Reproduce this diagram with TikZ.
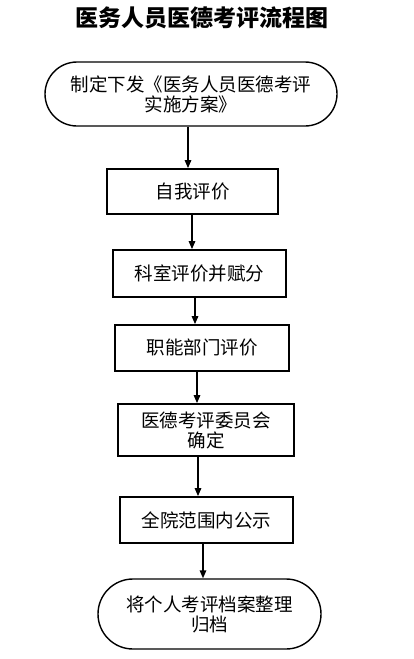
\documentclass[tikz,border=0pt]{standalone}
\usepackage{fontspec}
\newfontfamily\cjk{Noto Sans CJK SC}
\usetikzlibrary{arrows.meta,shapes.misc}
\definecolor{fcline}{RGB}{0,0,0}
\tikzset{
  box/.style={draw=fcline, line width=1.8pt, align=center, inner sep=0pt,
              font=\cjk\fontsize{18.5}{20}\selectfont},
  term/.style={box, rounded rectangle, line width=1.4pt},
  arr/.style={-{Triangle[length=8pt,width=6.5pt]}, line width=1.5pt, draw=fcline},
  ttl/.style={font=\cjk\bfseries\fontsize{23}{26}\selectfont}
}
\begin{document}
\begin{tikzpicture}[x=1pt, y=-1pt]
  \useasboundingbox (0,0) rectangle (413,659);
  \node[ttl] (title) at (202,18) {医务人员医德考评流程图};
  \node[term, minimum width=292pt, minimum height=64pt] (start) at (191,94)
    {制定下发《医务人员医德考评\\实施方案》};
  \node[box, minimum width=171pt, minimum height=45pt] (self) at (192.5,191.5) {自我评价};
  \node[box, minimum width=173pt, minimum height=47pt] (dept) at (199.5,273.5) {科室评价并赋分};
  \node[box, minimum width=174pt, minimum height=46pt] (func) at (202,348) {职能部门评价};
  \node[box, minimum width=176pt, minimum height=52pt] (cmte) at (206,430) {医德考评委员会\\确定};
  \node[box, minimum width=173pt, minimum height=46pt] (pub) at (206.5,520) {全院范围内公示};
  \node[term, minimum width=223pt, minimum height=70pt] (arch) at (209.5,614)
    {将个人考评档案整理\\归档};
  \draw[arr] (start.south -| 188,0) -- (self.north -| 188,0);
  \draw[arr] (self.south -| 192,0) -- (dept.north -| 192,0);
  \draw[arr] (dept.south -| 195,0) -- (func.north -| 195,0);
  \draw[arr] (func.south -| 197,0) -- (cmte.north -| 197,0);
  \draw[arr] (cmte.south -| 198,0) -- (pub.north -| 198,0);
  \draw[arr] (pub.south -| 203,0) -- (arch.north -| 203,0);
\end{tikzpicture}
\end{document}
